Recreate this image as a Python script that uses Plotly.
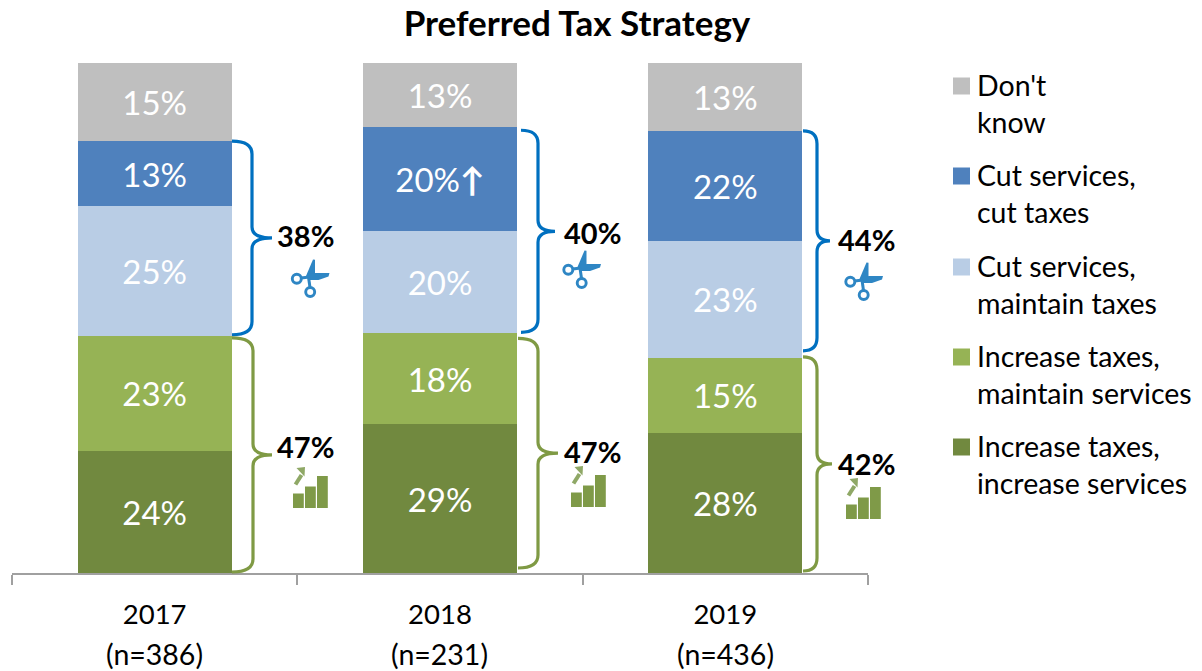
import plotly.graph_objects as go

# ---------- data ----------
categories = ["2017", "2018", "2019"]
sample_sizes = ["(n=386)", "(n=231)", "(n=436)"]
inc_inc = [23.9, 29.2, 27.5]
inc_main = [22.6, 17.8, 14.7]
cut_main = [25.4, 20.0, 22.9]
cut_cut = [12.8, 20.4, 21.6]
dont_know = [15.3, 12.6, 13.3]
inc_inc_text = ["24%", "29%", "28%"]
inc_main_text = ["23%", "18%", "15%"]
cut_main_text = ["25%", "20%", "23%"]
cut_cut_text = ["13%", "20%<b>↑</b>", "22%"]
dont_know_text = ["15%", "13%", "13%"]
cut_totals = ["38%", "40%", "44%"]
inc_totals = ["47%", "47%", "42%"]
legend_labels = ["Don't<br>know", "Cut services,<br>cut taxes", "Cut services,<br>maintain taxes",
                 "Increase taxes,<br>maintain services", "Increase taxes,<br>increase services"]
title_text = "Preferred Tax Strategy"

# ---------- style / layout ----------
FONT = "Lato"
W, H = 1202, 671
L, R, T, B = 12, 868, 63, 573
C_GRAY, C_BLUE, C_LBLUE, C_LGREEN, C_DGREEN = "#BFBFBF", "#4F81BD", "#B9CDE5", "#96B355", "#71893F"
C_BR_BLUE, C_BR_GREEN = "#0070C0", "#7F9A44"
C_SCISSORS, C_ICON, C_ICON_ARROW = "#2E86C4", "#7F9A48", "#8FA866"
LABEL_SIZE, LEGEND_SIZE, TICK_SIZE, TOTAL_SIZE = 33, 28.5, 27.5, 29


def X(px):
    return (px - L) / (R - L)


def Yp(py):
    return (B - py) / (B - T)


def V2P(v):
    return B - v * (B - T) / 100


traces = [
    ("Increase taxes, increase services", inc_inc, inc_inc_text, C_DGREEN),
    ("Increase taxes, maintain services", inc_main, inc_main_text, C_LGREEN),
    ("Cut services, maintain taxes", cut_main, cut_main_text, C_LBLUE),
    ("Cut services, cut taxes", cut_cut, cut_cut_text, C_BLUE),
    ("Don't know", dont_know, dont_know_text, C_GRAY),
]

fig = go.Figure()
for name, vals, txt, col in traces:
    fig.add_trace(go.Bar(
        x=categories, y=vals, name=name, text=txt, marker=dict(color=col, line=dict(width=0)),
        textposition="inside", insidetextanchor="middle", textangle=0, constraintext="none",
        insidetextfont=dict(family=FONT, size=LABEL_SIZE, color="white"),
        cliponaxis=False, showlegend=False,
    ))

shapes, annos = [], []


def brace(x0, xv, xt, ptop, pbot, color):
    rc, rt = 13, 11
    tip = (ptop + pbot) / 2
    pt = lambda x, y: f"{X(x):.5f},{Yp(y):.5f}"
    d = (f"M{pt(x0, ptop)} Q{pt(xv, ptop)} {pt(xv, ptop + rc)} L{pt(xv, tip - rt)} "
         f"Q{pt(xv, tip)} {pt(xt, tip)} Q{pt(xv, tip)} {pt(xv, tip + rt)} "
         f"L{pt(xv, pbot - rc)} Q{pt(xv, pbot)} {pt(x0, pbot)}")
    shapes.append(dict(type="path", path=d, xref="paper", yref="paper",
                       line=dict(color=color, width=3.2), fillcolor="rgba(0,0,0,0)", layer="above"))
    return tip


def circle_path(cx, cy, r):
    k = 0.5523 * r
    p = lambda x, y: f"{X(x):.5f},{Yp(y):.5f}"
    return (f"M{p(cx - r, cy)} C{p(cx - r, cy - k)} {p(cx - k, cy - r)} {p(cx, cy - r)} "
            f"C{p(cx + k, cy - r)} {p(cx + r, cy - k)} {p(cx + r, cy)} "
            f"C{p(cx + r, cy + k)} {p(cx + k, cy + r)} {p(cx, cy + r)} "
            f"C{p(cx - k, cy + r)} {p(cx - r, cy + k)} {p(cx - r, cy)} Z")


def poly(points, color, width=0, fill=True):
    d = "M" + " L".join(f"{X(x):.5f},{Yp(y):.5f}" for x, y in points) + (" Z" if fill else "")
    shapes.append(dict(type="path", path=d, xref="paper", yref="paper",
                       fillcolor=color if fill else "rgba(0,0,0,0)",
                       line=dict(color=color, width=width), layer="above"))


def scissors(px, py):
    for dx, dy in [(-12.7, 1.7), (0.7, 15)]:
        shapes.append(dict(type="path", path=circle_path(px + dx, py + dy, 4.5), xref="paper", yref="paper",
                           fillcolor="rgba(0,0,0,0)", line=dict(color=C_SCISSORS, width=2.9), layer="above"))
    poly([(px - 3.5, py - 1), (px + 3.5, py - 17.5), (px + 5.5, py - 17.3), (px + 5.5, py - 3), (px + 2, py + 2)],
         C_SCISSORS)
    poly([(px - 1, py - 3), (px + 6, py - 4), (px + 20, py - 4), (px + 19, py - 0.5),
          (px + 9, py + 3), (px + 0, py + 3)], C_SCISSORS)
    poly([(px - 8.5, py + 1), (px, py)], C_SCISSORS, 3, fill=False)
    poly([(px + 0.5, py + 10.5), (px - 1, py)], C_SCISSORS, 3, fill=False)


def growth(left, bottom):
    bw, gap = 10.8, 1.2
    for i, h in enumerate([14.5, 21.5, 32]):
        x0 = left + i * (bw + gap)
        shapes.append(dict(type="rect", xref="paper", yref="paper", x0=X(x0), x1=X(x0 + bw),
                           y0=Yp(bottom), y1=Yp(bottom - h), fillcolor=C_ICON, line=dict(width=0), layer="above"))
    poly([(left + 2.5, bottom - 23.5), (left + 8.5, bottom - 33)], C_ICON_ARROW, 4, fill=False)
    poly([(left + 12, bottom - 41), (left + 3.5, bottom - 40), (left + 11.5, bottom - 31.5)], C_ICON_ARROW)


# geometry of the decorations for each year (pixels)
brace_blue_x = [(232, 252, 272), (521, 538, 555), (803, 817, 830)]
brace_green_x = [(232, 253, 272), (518, 538, 558), (803, 817, 832)]
blue_inset = [(0, 1), (3, 1), (0, 7)]       # top, bottom
green_inset = [(2, 1), (5, 5), (-1, 2)]
label_left = [277, 564, 838]
blue_label_dy = [-2, 1, -1]
green_label_dy = [-8, -2, 0]
scissor_pos = [(309.5, 277), (581, 268), (863, 280)]
growth_pos = [(293, 508), (571, 507), (846, 519)]
bar_center = [155, 440, 726]

for i in range(3):
    b0 = inc_inc[i] + inc_main[i]
    b1 = b0 + cut_main[i] + cut_cut[i]
    tip = brace(*brace_blue_x[i], V2P(b1) + blue_inset[i][0], V2P(b0) - blue_inset[i][1], C_BR_BLUE)
    annos.append(dict(text=f"<b>{cut_totals[i]}</b>", x=X(label_left[i]), y=Yp(tip + blue_label_dy[i]),
                      xref="paper", yref="paper", xanchor="left", yanchor="middle", showarrow=False,
                      xshift=-2, font=dict(family=FONT, size=TOTAL_SIZE, color="black")))
    tip = brace(*brace_green_x[i], V2P(b0) + green_inset[i][0], V2P(0) - green_inset[i][1], C_BR_GREEN)
    annos.append(dict(text=f"<b>{inc_totals[i]}</b>", x=X(label_left[i]), y=Yp(tip + green_label_dy[i]),
                      xref="paper", yref="paper", xanchor="left", yanchor="middle", showarrow=False,
                      xshift=-2, font=dict(family=FONT, size=TOTAL_SIZE, color="black")))
    scissors(*scissor_pos[i])
    growth(*growth_pos[i])
    annos.append(dict(text=sample_sizes[i], x=X(bar_center[i] - 1), y=Yp(654), xref="paper", yref="paper",
                      xanchor="center", yanchor="middle", showarrow=False,
                      font=dict(family=FONT, size=28.5, color="black")))

# hand-placed legend (squares + two-line labels)
legend_colors = [C_GRAY, C_BLUE, C_LBLUE, C_LGREEN, C_DGREEN]
legend_y = [86, 176, 267, 357, 447]
for lab, col, ly in zip(legend_labels, legend_colors, legend_y):
    shapes.append(dict(type="rect", xref="paper", yref="paper", x0=X(953), x1=X(970),
                       y0=Yp(ly + 8.5), y1=Yp(ly - 8.5), fillcolor=col, line=dict(width=0), layer="above"))
    annos.append(dict(text=lab, x=X(975), y=Yp(ly - 20), xref="paper", yref="paper", xanchor="left",
                      yanchor="top", align="left", showarrow=False,
                      font=dict(family=FONT, size=LEGEND_SIZE, color="black")))

fig.update_layout(
    width=W, height=H, autosize=False,
    margin=dict(l=L, r=W - R, t=T, b=H - B, pad=0),
    paper_bgcolor="white", plot_bgcolor="white",
    barmode="stack", bargap=0.46, showlegend=False,
    title=dict(text=f"<b>{title_text}</b>", x=577 / W, xanchor="center", y=1 - 24 / H, yanchor="middle",
               font=dict(family=FONT, size=35, color="black")),
    xaxis=dict(type="category", tickson="boundaries", ticks="outside", ticklen=10, tickwidth=2,
               tickcolor="#A0A0A0", showline=True, linecolor="#A0A0A0", linewidth=2, showgrid=False,
               ticklabelstandoff=16,
               tickfont=dict(family=FONT, size=TICK_SIZE, color="black"), fixedrange=True),
    yaxis=dict(range=[0, 100], visible=False, fixedrange=True),
    shapes=shapes, annotations=annos,
)
fig.write_html("out.html", config=dict(displayModeBar=False),
               post_script="document.body.style.margin='0';")
